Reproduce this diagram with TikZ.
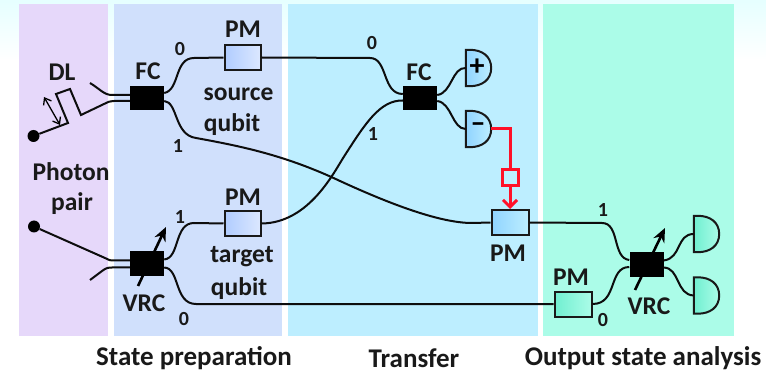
\documentclass[tikz,border=0pt]{standalone}
\usepackage{fontspec}
\setmainfont{Carlito}
\usetikzlibrary{arrows.meta}
\definecolor{panelP}{HTML}{E6D8FA}
\definecolor{panelB}{HTML}{D0E0FC}
\definecolor{panelC}{HTML}{BDEEFF}
\definecolor{panelG}{HTML}{ABFCE8}
\definecolor{redline}{HTML}{FF1028}
\definecolor{pmBa}{HTML}{B0CCFF}
\definecolor{pmBb}{HTML}{DCE8FF}
\definecolor{pmCa}{HTML}{90D4FF}
\definecolor{pmGa}{HTML}{70EFD0}
\tikzset{
  panel/.style={draw=none,inner sep=0pt,outer sep=0pt},
  lab/.style={font=\fontsize{25.5}{28}\selectfont\bfseries,inner sep=0pt,text=black!90},
  captxt/.style={font=\fontsize{27}{30}\selectfont\bfseries,inner sep=0pt,text=black!90},
  num/.style={font=\fontsize{20}{22}\selectfont\bfseries,inner sep=0pt,text=black!90},
  coupler/.style={fill=black,draw=none,inner sep=0pt,minimum width=34pt,minimum height=24.5pt},
  pmbox/.style={draw=black!90,line width=2pt,inner sep=0pt,minimum width=36pt,minimum height=25pt,shading=axis,shading angle=90},
  fibre/.style={line width=2pt,black!95},
  detect/.style={inner sep=0pt,minimum width=25pt,minimum height=36pt,draw=none},
  dotend/.style={circle,fill=black,inner sep=0pt,minimum size=12pt},
  tune/.style={line width=2.6pt,-{Stealth[length=14pt,width=12pt]}},
  fb/.style={line width=3pt,redline},
}
\newcommand{\detshape}[3]{% node, left colour, right colour
  \draw[line width=2pt,black!90,left color=#2,right color=#3]
    (#1.north west) -- ++(4,0) .. controls +(12,0) and +(0,-12) .. (#1.east)
    .. controls +(0,12) and +(12,0) .. ([xshift=4pt]#1.south west) -- (#1.south west) -- cycle;}
\begin{document}
\begin{tikzpicture}[x=1pt,y=-1pt]
\useasboundingbox (0,0) rectangle (766,374);
\shade[top color=cyan!10!white,bottom color=white] (0,0) rectangle (766,60);
\node[panel,fill=panelP,minimum width=89pt,minimum height=331.5pt,anchor=north west] (pa) at (19,4) {};
\node[panel,fill=panelB,minimum width=168pt,minimum height=331.5pt,anchor=north west] (pb) at (114,4) {};
\node[panel,fill=panelC,minimum width=250pt,minimum height=331.5pt,anchor=north west] (pc) at (288,4) {};
\node[panel,fill=panelG,minimum width=191pt,minimum height=331.5pt,anchor=north west] (pd) at (543,4) {};

% tunable arrows (behind the couplers)
\coordinate (t1a) at (138,286); \coordinate (t1b) at (166,227);
\coordinate (t2a) at (635,290); \coordinate (t2b) at (665,228);
\draw[tune] (t1a) -- (t1b);
\draw[tune] (t2a) -- (t2b);

% components
\node[coupler] (fcA) at (147,98) {};
\node[coupler] (vrcA) at (147,263.5) {};
\node[coupler] (fcB) at (420,98) {};
\node[coupler] (vrcB) at (646.5,264.5) {};
\node[pmbox,left color=pmBa,right color=pmBb] (pmS) at (242.5,57.5) {};
\node[pmbox,left color=pmBa,right color=pmBb] (pmT) at (242.5,223.5) {};
\node[pmbox,left color=pmCa,right color=panelC,minimum width=37pt] (pmC) at (510,222.5) {};
\node[pmbox,left color=pmGa,right color=panelG,minimum width=37pt] (pmD) at (573,304) {};
\node[detect] (dP) at (478.5,68) {};
\node[detect] (dM) at (478.5,129) {};
\node[detect] (dU) at (706.5,234) {};
\node[detect] (dL) at (706.5,295.5) {};
\detshape{dP}{pmCa}{panelC}
\detshape{dM}{pmCa}{panelC}
\detshape{dU}{pmGa}{panelG}
\detshape{dL}{pmGa}{panelG}
\node[font=\fontsize{30}{30}\selectfont\bfseries,inner sep=0pt] (plus) at (477,67.5) {+};
\node[font=\fontsize{30}{30}\selectfont\bfseries,inner sep=0pt] (minus) at (478,128) {--};

% free ends
\node[dotend] (srcA) at (33.5,136) {};
\node[dotend] (srcB) at (34,226.5) {};
\coordinate (openA) at (90,83);
\coordinate (openB) at (90,280);
\coordinate (dlA) at (68,123);
\coordinate (dlB) at (56,94);
\coordinate (dlC) at (70,89);
\coordinate (dlD) at (81,115);
\coordinate (dlU) at (44,97);
\coordinate (dlV) at (60,125);

% fibres left of first couplers (yshift is in page sense: positive is up)
\draw[fibre] (openA) .. controls (100,89) and (104,95) .. (112,95) -- ([yshift=3pt]fcA.west);
\draw[fibre] (srcA) -- (dlA) -- (dlB) -- (dlC) -- (dlD) -- (104,104) .. controls (109,101.5) .. (114,101) -- ([yshift=-3pt]fcA.west);
\draw[line width=1.3pt,{Straight Barb[length=6pt,width=9pt]}-{Straight Barb[length=6pt,width=9pt]}] (dlU) -- (dlV);
\draw[fibre] (srcB) -- (105,258) .. controls (110,260.5) .. (114,260.5) -- ([yshift=3pt]vrcA.west);
\draw[fibre] (openB) -- (102,271) .. controls (106,268) and (108,267.5) .. (112,267.5) -- ([yshift=-4pt]vrcA.west);

% fibres: source preparation
\draw[fibre] ([yshift=5pt]fcA.east) .. controls (180,90) and (174,58) .. (194,58) -- (pmS.west);
\draw[fibre] ([yshift=-3pt]fcA.east) .. controls (178,102) and (174,135) .. (196,138)
  .. controls (240,146) and (285,155) .. (340,181)
  .. controls (390,204) and (440,223) .. (472,223) -- (pmC.west);
\draw[fibre] ([yshift=4pt]vrcA.east) .. controls (180,258) and (174,223) .. (194,223) -- (pmT.west);
\draw[fibre] ([yshift=-4pt]vrcA.east) .. controls (180,268) and (174,304) .. (196,304) -- (pmD.west);

% fibres: transfer
\draw[fibre] (pmS.east) -- (370,58) .. controls (388,58) and (382,94) .. ([yshift=4pt]fcB.west);
\draw[fibre] (pmT.east) .. controls (310,223) and (335,170) .. (345,155) .. controls (365,124) and (380,100) .. ([yshift=-2.5pt]fcB.west);
\draw[fibre] ([yshift=3pt]fcB.east) .. controls (452,93) and (452,67) .. (dP.west);
\draw[fibre] ([yshift=-3pt]fcB.east) .. controls (452,103) and (452,129) .. (dM.west);

% fibres: analysis
\draw[fibre] (pmC.east) -- (602,223) .. controls (620,223) and (612,258) .. ([yshift=4.5pt]vrcB.west);
\draw[fibre] (pmD.east) .. controls (618,304) and (608,267) .. ([yshift=-2.5pt]vrcB.west);
\draw[fibre] ([yshift=4pt]vrcB.east) .. controls (682,258) and (676,234) .. (dU.west);
\draw[fibre] ([yshift=-3pt]vrcB.east) .. controls (680,268) and (676,295) .. (dL.west);

% feed-forward
\node[draw=redline,line width=3pt,fill=panelC,inner sep=0pt,minimum width=16pt,minimum height=16pt] (mod) at (510,178) {};
\draw[fb] (dM.east) -- (510,129) -- (mod.north);
\draw[fb,-{Straight Barb[length=7pt,width=14pt]}] (mod.south) -- (pmC.north);

% labels
\node[lab] (tDL) at (62,72) {DL};
\node[lab] (tFCa) at (148,71) {FC};
\node[lab] (tPMa) at (243,29) {PM};
\node[num] (n0a) at (180,49) {0};
\node[num] (n1a) at (178,146) {1};
\node[lab] (tsrc) at (238.5,94) {source};
\node[lab] (tqa) at (232,125) {qubit};
\node[lab] (tph) at (71,172) {Photon};
\node[lab] (tpr) at (72,204) {pair};
\node[lab] (tPMb) at (243,197) {PM};
\node[num] (n1b) at (180,217) {1};
\node[lab] (ttg) at (242,257) {target};
\node[lab] (tqb) at (239,289) {qubit};
\node[lab] (tVRa) at (144,303) {VRC};
\node[num] (n0b) at (184,319) {0};
\node[num] (n0c) at (372,43) {0};
\node[lab] (tFCb) at (419,72) {FC};
\node[num] (n1c) at (373,134) {1};
\node[lab] (tPMc) at (508,253) {PM};
\node[num] (n1d) at (603,210) {1};
\node[lab] (tPMd) at (571,277) {PM};
\node[num] (n0d) at (603,320) {0};
\node[lab] (tVRb) at (649,306) {VRC};
\node[captxt] (c1) at (194,358) {State preparation};
\node[captxt] (c2) at (414,358) {Transfer};
\node[captxt] (c3) at (643,358) {Output state analysis};
\end{tikzpicture}
\end{document}
